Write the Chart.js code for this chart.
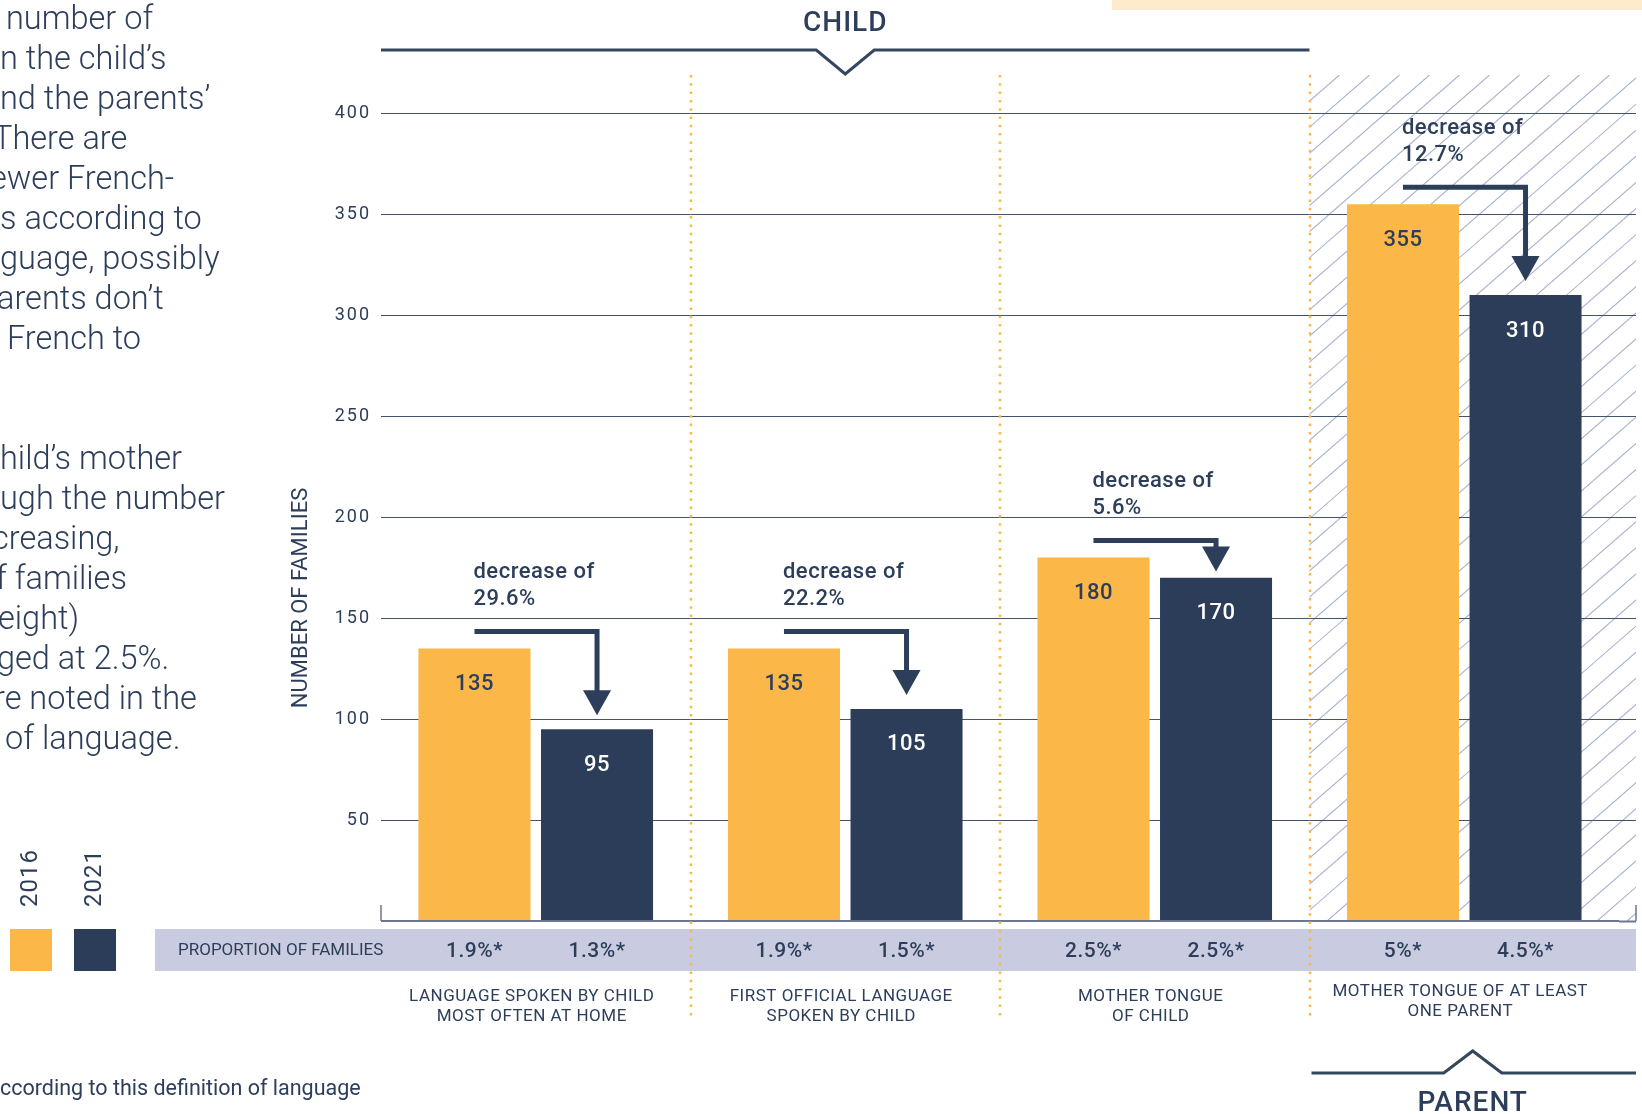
<!DOCTYPE html>
<html>
<head>
<meta charset="utf-8">
<script src="https://cdn.jsdelivr.net/npm/chart.js@4.4.1/dist/chart.umd.min.js"></script>
<style>
html, body { margin: 0; padding: 0; background: #fff; overflow: hidden; }
#wrap { position: relative; width: 1642px; height: 1114px; }
#chart { position: absolute; left: 0; top: 0; }
.para { position: absolute; left: 0; font: 300 32.5px Roboto, sans-serif; line-height: 40px; color: #2c3e5a; white-space: nowrap; }
.note { position: absolute; left: 0; top: 1075px; font: 400 21.5px Roboto, sans-serif; color: #2c3e5a; white-space: nowrap; }
</style>
</head>
<body>
<div id="wrap">
  <canvas id="chart" width="1642" height="1114"></canvas>
  <div class="para" style="top:-2px">
    <div style="padding-left:6px">number of</div>
    <div>n the child’s</div>
    <div>nd the parents’</div>
    <div style="margin-left:-7px">There are</div>
    <div style="margin-left:-10px">ewer French-</div>
    <div>s according to</div>
    <div>guage, possibly</div>
    <div style="margin-left:-3px">arents don’t</div>
    <div style="padding-left:7px">French to</div>
  </div>
  <div class="para" style="top:438px">
    <div>hild’s mother</div>
    <div>ugh the number</div>
    <div style="margin-left:-8px">creasing,</div>
    <div style="margin-left:-4px">f families</div>
    <div style="margin-left:-2px">eight)</div>
    <div style="margin-left:-3px">ged at 2.5%.</div>
    <div style="margin-left:-6px">re noted in the</div>
    <div style="padding-left:5px">of language.</div>
  </div>
  <div class="note">ccording to this definition of language</div>
</div>
<script>
// données du graphique
const categories = [
    ['LANGUAGE SPOKEN BY CHILD', 'MOST OFTEN AT HOME'],
    ['FIRST OFFICIAL LANGUAGE', 'SPOKEN BY CHILD'],
    ['MOTHER TONGUE', 'OF CHILD'],
    ['MOTHER TONGUE OF AT LEAST', 'ONE PARENT']
];
const years = ['2016', '2021'];
const families2016 = [135, 135, 180, 355];
const families2021 = [95, 105, 170, 310];
const proportion2016 = ['1.9%*', '1.9%*', '2.5%*', '5%*'];
const proportion2021 = ['1.3%*', '1.5%*', '2.5%*', '4.5%*'];
const decreases = ['29.6%', '22.2%', '5.6%', '12.7%'];

const ORANGE = '#fbb747';
const NAVY = '#2b3d58';
const INK = '#2c3e5a';
const RIGHT = 1636;

function dividerX(x, i) {
    return (x.getPixelForValue(i - 1) + x.getPixelForValue(i)) / 2;
}

function bracket(ctx, pts) {
    ctx.save();
    ctx.strokeStyle = '#34475f';
    ctx.lineWidth = 3;
    ctx.lineJoin = 'miter';
    ctx.beginPath();
    pts.forEach((p, k) => k ? ctx.lineTo(p[0], p[1]) : ctx.moveTo(p[0], p[1]));
    ctx.stroke();
    ctx.restore();
}

const decor = {
    id: 'decor',
    beforeDraw(chart) {
        const { ctx, chartArea: a, scales: { x, y } } = chart;
        const bot = y.getPixelForValue(0);

        // bandeau orange en haut à droite
        ctx.fillStyle = '#fdebcc';
        ctx.fillRect(1112, 0, 530, 10);

        // zone hachurée (parent)
        const hx = dividerX(x, 3);
        ctx.save();
        ctx.beginPath();
        ctx.rect(hx, a.top, RIGHT - hx, bot - a.top);
        ctx.clip();
        ctx.strokeStyle = '#a9b2d0';
        ctx.lineWidth = 1.1;
        const run = (bot - a.top) / 0.87;
        ctx.beginPath();
        for (let sx = hx - run; sx < RIGHT + 30; sx += 30) {
            ctx.moveTo(sx, bot);
            ctx.lineTo(sx + run, a.top);
        }
        ctx.stroke();
        ctx.restore();

        // bande "proportion"
        ctx.fillStyle = '#c9cce0';
        ctx.fillRect(155, 929, RIGHT - 155, 42);

        ctx.letterSpacing = '2px';
    },
    beforeDatasetsDraw(chart) {
        const { ctx, chartArea: a, scales: { y } } = chart;
        ctx.save();
        ctx.letterSpacing = '0px';
        // prolonger les lignes de grille
        y.ticks.forEach(t => {
            const py = Math.round(y.getPixelForValue(t.value)) + 0.5;
            ctx.strokeStyle = t.value === 0 ? '#6a778c' : '#44536c';
            ctx.lineWidth = t.value === 0 ? 2 : 1;
            ctx.beginPath();
            ctx.moveTo(a.right, py);
            ctx.lineTo(RIGHT, py);
            ctx.stroke();
        });
        // petits traits verticaux aux extrémités de l'axe
        const bot = y.getPixelForValue(0);
        ctx.strokeStyle = '#6a778c';
        ctx.lineWidth = 1.5;
        ctx.beginPath();
        ctx.moveTo(a.left, bot - 16); ctx.lineTo(a.left, bot);
        ctx.moveTo(RIGHT, bot - 16); ctx.lineTo(RIGHT, bot);
        ctx.stroke();
        ctx.restore();
    },
    afterDatasetsDraw(chart) {
        const { ctx } = chart;
        const m0 = chart.getDatasetMeta(0).data;
        const m1 = chart.getDatasetMeta(1).data;
        ctx.save();
        ctx.letterSpacing = '0.5px';
        ctx.textAlign = 'center';
        ctx.textBaseline = 'middle';
        ctx.font = '500 22px Roboto';
        m0.forEach((b, i) => {
            ctx.fillStyle = INK;
            ctx.fillText(String(families2016[i]), b.x, b.y + 36);
            ctx.fillStyle = '#ffffff';
            ctx.fillText(String(families2021[i]), m1[i].x, m1[i].y + 36);
        });

        // annotations "decrease of"
        m0.forEach((b, i) => {
            const nb = m1[i];
            ctx.fillStyle = INK;
            ctx.textAlign = 'left';
            ctx.font = '500 22px Roboto';
            ctx.fillText('decrease of', b.x - 1, b.y - 76);
            ctx.fillText(decreases[i], b.x - 1, b.y - 49);

            const ly = b.y - 17;
            const tip = Math.max(ly + 31, nb.y - 14);
            ctx.strokeStyle = INK;
            ctx.lineWidth = 5;
            ctx.lineJoin = 'miter';
            ctx.beginPath();
            ctx.moveTo(b.x, ly);
            ctx.lineTo(nb.x, ly);
            ctx.lineTo(nb.x, tip - 20);
            ctx.stroke();
            ctx.beginPath();
            ctx.moveTo(nb.x - 14, tip - 25);
            ctx.lineTo(nb.x + 14, tip - 25);
            ctx.lineTo(nb.x, tip);
            ctx.closePath();
            ctx.fill();
        });
        ctx.restore();
    },
    afterDraw(chart) {
        const { ctx, chartArea: a, scales: { x, y } } = chart;
        ctx.save();
        ctx.letterSpacing = '0px';

        // séparateurs pointillés
        ctx.strokeStyle = ORANGE;
        ctx.lineWidth = 2.5;
        ctx.setLineDash([2.5, 5.8]);
        for (let i = 1; i < categories.length; i++) {
            const dx = Math.round(dividerX(x, i));
            ctx.beginPath();
            ctx.moveTo(dx, a.top);
            ctx.lineTo(dx, 1021);
            ctx.stroke();
        }
        ctx.setLineDash([]);

        // accolades CHILD / PARENT
        const d3 = dividerX(x, 3);
        const cMid = (a.left + d3) / 2;
        bracket(ctx, [[a.left, 50], [cMid - 29, 50], [cMid, 74], [cMid + 29, 50], [d3, 50]]);
        const pMid = (d3 + RIGHT) / 2;
        bracket(ctx, [[d3 + 2, 1073], [pMid - 29, 1073], [pMid, 1051], [pMid + 29, 1073], [RIGHT, 1073]]);

        ctx.fillStyle = INK;
        ctx.textAlign = 'center';
        ctx.textBaseline = 'middle';
        ctx.letterSpacing = '1px';
        ctx.font = '500 28px Roboto';
        ctx.fillText('CHILD', cMid, 24);
        ctx.fillText('PARENT', pMid, 1104);

        // valeurs de proportion
        const m0 = chart.getDatasetMeta(0).data;
        const m1 = chart.getDatasetMeta(1).data;
        ctx.letterSpacing = '0.5px';
        ctx.font = '500 21px Roboto';
        m0.forEach((b, i) => {
            ctx.fillText(proportion2016[i], b.x, 952);
            ctx.fillText(proportion2021[i], m1[i].x, 952);
        });
        ctx.textAlign = 'left';
        ctx.font = '400 17px Roboto';
        ctx.letterSpacing = '0px';
        ctx.fillText('PROPORTION OF FAMILIES', 178, 951);

        // étiquettes de catégories
        ctx.textAlign = 'center';
        ctx.letterSpacing = '0.5px';
        ctx.font = '400 17px Roboto';
        categories.forEach((lines, i) => {
            const cx = x.getPixelForValue(i) - 4;
            const off = i === 3 ? -5 : 0;
            lines.forEach((t, k) => ctx.fillText(t, cx, 997 + off + k * 20));
        });

        // titre de l'axe Y
        ctx.save();
        ctx.translate(301, 598);
        ctx.rotate(-Math.PI / 2);
        ctx.font = '400 22px Roboto';
        ctx.letterSpacing = '0px';
        ctx.fillText('NUMBER OF FAMILIES', 0, 0);
        ctx.restore();

        // légende
        const colors = [ORANGE, NAVY];
        ctx.font = '400 24px Roboto';
        ctx.letterSpacing = '1px';
        years.forEach((yr, k) => {
            const lx = 10 + k * 64;
            ctx.fillStyle = colors[k];
            ctx.fillRect(lx, 929, 42, 42);
            ctx.save();
            ctx.translate(lx + 21, 907);
            ctx.rotate(-Math.PI / 2);
            ctx.textAlign = 'left';
            ctx.fillStyle = INK;
            ctx.fillText(yr, 0, 0);
            ctx.restore();
        });
        ctx.restore();
    }
};

const ctx = document.getElementById('chart').getContext('2d');
const chart = new Chart(ctx, {
    type: 'bar',
    data: {
        labels: categories,
        datasets: [
            { label: years[0], data: families2016, backgroundColor: ORANGE },
            { label: years[1], data: families2021, backgroundColor: NAVY }
        ]
    },
    options: {
        responsive: false,
        animation: false,
        layout: { padding: { left: 0, right: 23, top: 75, bottom: 193 } },
        datasets: { bar: { categoryPercentage: 0.792, barPercentage: 0.914 } },
        plugins: { legend: { display: false }, tooltip: { enabled: false } },
        scales: {
            x: { display: false },
            y: {
                min: 0,
                max: 419,
                afterFit: s => { s.width = 381; },
                border: { display: false },
                grid: {
                    drawTicks: false,
                    color: c => c.tick && c.tick.value === 0 ? '#6a778c' : '#44536c',
                    lineWidth: c => c.tick && c.tick.value === 0 ? 2 : 1
                },
                ticks: {
                    stepSize: 50,
                    includeBounds: false,
                    padding: 10,
                    color: INK,
                    font: { family: 'Roboto', size: 18 },
                    callback: v => v === 0 ? '' : v
                }
            }
        }
    },
    plugins: [decor]
});
</script>
</body>
</html>
